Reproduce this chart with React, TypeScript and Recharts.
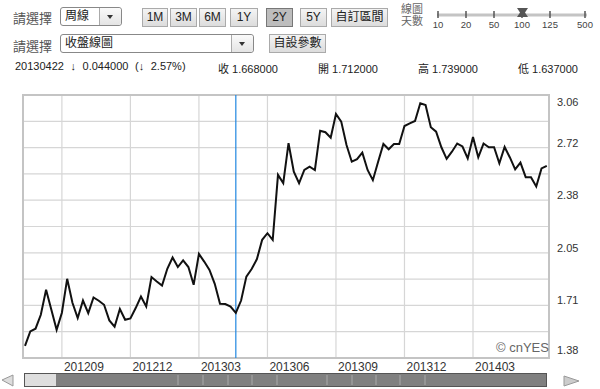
import React from 'react';
import { LineChart, Line, XAxis, YAxis, CartesianGrid, ReferenceLine, ReferenceArea } from 'recharts';

// weekly close, 2012-07-16 .. 2014-06-09
const closes = [
  1.458, 1.55, 1.567, 1.656, 1.816, 1.688, 1.56, 1.669, 1.886, 1.733,
  1.635, 1.747, 1.667, 1.767, 1.746, 1.72, 1.62, 1.58, 1.693, 1.624,
  1.633, 1.699, 1.773, 1.709, 1.897, 1.869, 1.843, 1.95, 2.022, 1.961,
  2.003, 1.961, 1.848, 2.045, 1.996, 1.943, 1.854, 1.726, 1.725, 1.709,
  1.668, 1.747, 1.9, 1.948, 2.012, 2.135, 2.177, 2.135, 2.55, 2.497,
  2.752, 2.57, 2.497, 2.581, 2.602, 2.581, 2.832, 2.822, 2.787, 2.939,
  2.89, 2.741, 2.634, 2.65, 2.692, 2.581, 2.516, 2.634, 2.747, 2.713,
  2.747, 2.747, 2.862, 2.879, 2.894, 3.007, 2.996, 2.854, 2.826, 2.726,
  2.652, 2.698, 2.75, 2.731, 2.655, 2.792, 2.662, 2.75, 2.726, 2.726,
  2.624, 2.728, 2.661, 2.585, 2.628, 2.535, 2.534, 2.476, 2.591, 2.607,
];

const xTickIdx = [7, 20, 33, 46, 59, 72, 85];
const xTickLabels = ['201209', '201212', '201303', '201306', '201309', '201312', '201403'];

const yTicks = [1.38, 1.548, 1.716, 1.884, 2.052, 2.22, 2.388, 2.556, 2.724, 2.892, 3.06];
const yTickLabels = ['1.38', '', '1.71', '', '2.05', '', '2.38', '', '2.72', '', '3.06'];

const cursorIdx = 40;
const periods = ['1M', '3M', '6M', '1Y', '2Y', '5Y'];
const activePeriod = '2Y';
const sliderLabels = ['10', '20', '50', '100', '125', '500'];
const sliderX = [438, 466, 494, 522, 550, 585];

const data = closes.map((v, i) => ({ i, close: v }));

const FONT = '"Liberation Sans", Arial, "Noto Sans CJK TC", sans-serif';

const XTick = (props: any) => {
  const k = xTickIdx.indexOf(props.payload.value);
  return (
    <text x={props.x + 2} y={291} textAnchor="start" fontSize={12} fill="#333" fontFamily={FONT}>
      {xTickLabels[k]}
    </text>
  );
};

const YTick = (props: any) => {
  const label = yTickLabels[props.index];
  if (!label) return null;
  let dy = -5;
  if (props.index === 0) dy = -8;
  if (props.index === yTicks.length - 1) dy = 7;
  return (
    <text x={557} y={props.y + dy + 4} textAnchor="start" fontSize={11} fill="#333" fontFamily={FONT}>
      {label}
    </text>
  );
};

const btn = (left: number, width: number, active = false): React.CSSProperties => ({
  position: 'absolute',
  left,
  top: 8,
  width,
  height: 19,
  boxSizing: 'border-box',
  border: active ? '1px solid #777' : '1px solid #aaa',
  background: active ? '#bdbdbd' : 'linear-gradient(#f4f4f4, #dcdcdc)',
  fontSize: 12,
  lineHeight: '17px',
  textAlign: 'center',
  color: '#222',
});

const Dropdown = ({ left, top, width, text }: { left: number; top: number; width: number; text: string }) => (
  <div
    style={{
      position: 'absolute', left, top, width, height: 19, boxSizing: 'border-box',
      border: '1px solid #888', borderRadius: 3, background: '#fff', fontSize: 12, lineHeight: '17px',
    }}
  >
    <span style={{ position: 'absolute', left: 4, color: '#222' }}>{text}</span>
    <div style={{ position: 'absolute', right: 0, top: 0, width: 21, height: 17, borderLeft: '1px solid #aaa', background: 'linear-gradient(#fafafa, #e4e4e4)', borderRadius: '0 3px 3px 0' }}>
      <div style={{ position: 'absolute', left: 7, top: 7, width: 0, height: 0, borderLeft: '3.5px solid transparent', borderRight: '3.5px solid transparent', borderTop: '4px solid #333' }} />
    </div>
  </div>
);

const periodLeft = [142, 170, 199, 230, 266, 300];
const periodWidth = [26, 27, 27, 28, 27, 27];

const info = (left: number, text: string, extra: React.CSSProperties = {}) => (
  <div style={{ position: 'absolute', top: 60, left, fontSize: 11, color: '#222', whiteSpace: 'pre', ...extra }}>{text}</div>
);

export default function App() {
  return (
    <div style={{ position: 'absolute', left: 0, top: 0, width: 600, height: 389, background: '#fff', fontFamily: FONT, overflow: 'hidden' }}>
      {/* row 1 */}
      <div style={{ position: 'absolute', left: 13, top: 8, fontSize: 13, color: '#555' }}>請選擇</div>
      <Dropdown left={60} top={7} width={62} text="周線" />
      {periods.map((p, k) => (
        <div key={p} style={btn(periodLeft[k], periodWidth[k], p === activePeriod)}>{p}</div>
      ))}
      <div style={btn(331, 57)}>自訂區間</div>
      <div style={{ position: 'absolute', left: 401, top: 3, fontSize: 11, lineHeight: '12px', color: '#666' }}>
        線圖<br />天數
      </div>
      <svg style={{ position: 'absolute', left: 0, top: 0 }} width={600} height={40}>
        <line x1={437} y1={15} x2={587} y2={15} stroke="#c4c4c4" strokeWidth={3} />
        {sliderX.map((x, k) => (
          <g key={k}>
            <line x1={x} y1={11} x2={x} y2={18} stroke="#555" strokeWidth={1.5} />
            <text x={x} y={28} fontSize={9.5} textAnchor="middle" fill="#444" fontFamily={FONT}>{sliderLabels[k]}</text>
          </g>
        ))}
        <polygon points="517,8 528,8 525,12.5 528,17 517,17 520,12.5" fill="#555" />
      </svg>

      {/* row 2 */}
      <div style={{ position: 'absolute', left: 13, top: 36, fontSize: 13, color: '#555' }}>請選擇</div>
      <Dropdown left={60} top={34} width={194} text="收盤線圖" />
      <div style={{ ...btn(269, 57), top: 34 }}>自設參數</div>

      {/* row 3 */}
      {info(15, '20130422 ↓ 0.044000 (↓ 2.57%)', { wordSpacing: 3.5 })}
      {info(218, '收 1.668000')}
      {info(318, '開 1.712000')}
      {info(418, '高 1.739000')}
      {info(518, '低 1.637000')}

      {/* chart */}
      <div style={{ position: 'absolute', left: 0, top: 80 }}>
        <LineChart width={600} height={309} data={data} margin={{ top: 15, right: 6, bottom: 11, left: 23 }}>
          <CartesianGrid stroke="#d6d6d6" strokeWidth={1.2} />
          <ReferenceArea x1={-0.38} x2={99.42} y1={1.38} y2={3.06} fill="none" stroke="#c4c4c4" strokeWidth={2} />
          <XAxis
            type="number"
            dataKey="i"
            domain={[-0.38, 99.42]}
            ticks={xTickIdx}
            interval={0}
            axisLine={false}
            tickLine={false}
            height={20}
            tick={<XTick />}
          />
          <YAxis
            type="number"
            orientation="right"
            domain={[1.38, 3.06]}
            ticks={yTicks}
            interval={0}
            axisLine={false}
            tickLine={false}
            width={45}
            tick={<YTick />}
          />
          <ReferenceLine x={cursorIdx} stroke="#1f86e0" strokeWidth={1.2} />
          <Line type="linear" dataKey="close" stroke="#111" strokeWidth={2} dot={false} isAnimationActive={false} />
        </LineChart>
      </div>
      <div style={{ position: 'absolute', left: 496, top: 340, fontSize: 13, color: '#666' }}>© cnYES</div>

      {/* scrollbar */}
      <svg style={{ position: 'absolute', left: 0, top: 370 }} width={600} height={19}>
        <polygon points="2,10 13,5 13,16" fill="#ddd" stroke="#999" strokeWidth={1} />
        <rect x={24.5} y={3.5} width={522} height={13} fill="#808080" stroke="#555" />
        <rect x={25} y={4} width={31} height={12} fill="#dedede" />
        {[178, 203, 228, 252, 277, 327, 352, 376, 400, 425].map((x) => (
          <line key={x} x1={x} y1={5} x2={x} y2={15} stroke="#aaa" strokeWidth={1} />
        ))}
        <polygon points="564,6 579,11 564,16" fill="#ccc" stroke="#999" strokeWidth={1} />
      </svg>
    </div>
  );
}
